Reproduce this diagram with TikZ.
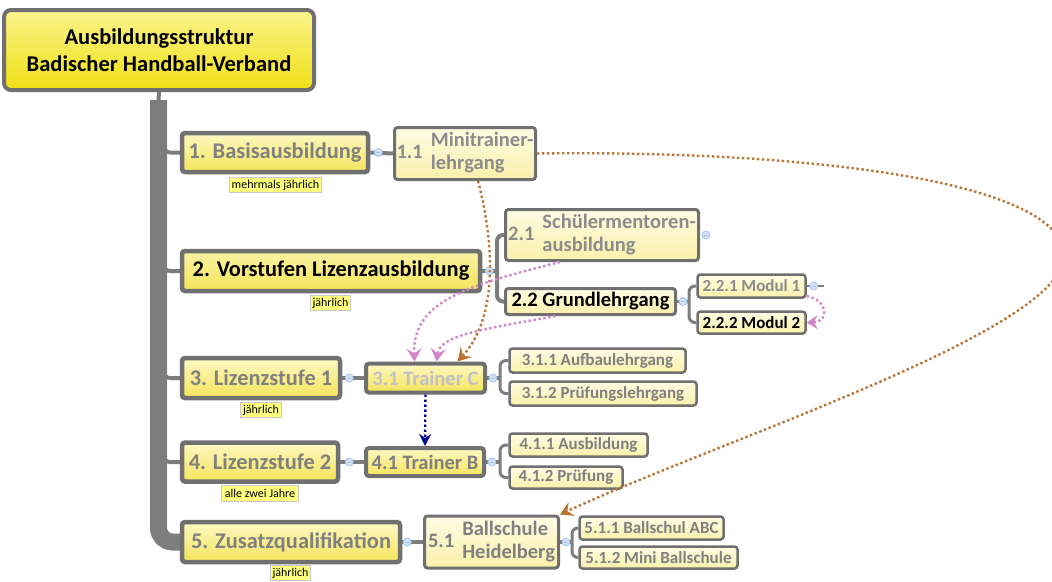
\documentclass[tikz,border=0pt]{standalone}
\usepackage{fontspec}
\setmainfont{Carlito}
\usetikzlibrary{arrows.meta}
\definecolor{bd}{RGB}{112,112,112}
\definecolor{trk}{RGB}{125,125,125}
\definecolor{tg}{RGB}{128,128,128}
\definecolor{tl}{RGB}{140,140,140}
\definecolor{tc}{RGB}{192,192,200}
\definecolor{rootT}{RGB}{250,243,140}
\definecolor{rootB}{RGB}{240,224,20}
\definecolor{lvT}{RGB}{253,248,195}
\definecolor{lvB}{RGB}{245,228,90}
\definecolor{sbT}{RGB}{255,252,228}
\definecolor{sbB}{RGB}{250,240,170}
\definecolor{noteF}{RGB}{255,255,128}
\definecolor{notebd}{RGB}{200,200,200}
\definecolor{knobF}{RGB}{210,225,248}
\definecolor{knobD}{RGB}{165,195,235}
\definecolor{brn}{RGB}{185,115,50}
\definecolor{pnk}{RGB}{212,132,200}
\definecolor{nvy}{RGB}{0,0,140}
\tikzset{
  base/.style={draw=bd, rounded corners=3pt, inner sep=0pt, font=\bfseries},
  rootbox/.style={base, line width=4pt, rounded corners=7pt, top color=rootT, bottom color=rootB, align=center, font=\bfseries\fontsize{22.5}{27}\selectfont},
  lvl/.style={base, line width=4.5pt, top color=lvT, bottom color=lvB, text=tg, font=\bfseries\fontsize{22.4}{26}\selectfont},
  sub/.style={base, line width=3pt, top color=sbT, bottom color=sbB, text=tl, font=\bfseries\fontsize{20.5}{23}\selectfont},
  subl/.style={sub, line width=4pt, top color=lvT, bottom color=lvB},
  leaf/.style={base, line width=2.5pt, top color=sbT, bottom color=sbB, text=tg, font=\bfseries\fontsize{17}{20}\selectfont},
  note/.style={draw=notebd, line width=0.8pt, fill=noteF, inner sep=0pt, font=\fontsize{12}{14}\selectfont},
  trunk/.style={draw=trk, line width=17pt, rounded corners=14pt},
  branch/.style={draw=trk, line width=4pt, rounded corners=6pt},
  knob/.style={circle, draw=knobD, fill=knobF, minimum size=8pt, inner sep=0pt, line width=0.8pt,
    path picture={\draw[knobD, line width=0.8pt] ([xshift=-2.2pt]path picture bounding box.center) -- ([xshift=2.2pt]path picture bounding box.center);}},
  rel/.style={line width=2.4pt, dash pattern=on 2.4pt off 2.6pt},
  tip/.style={-{Stealth[length=13pt, width=15pt, inset=5pt]}},
}
\begin{document}
\begin{tikzpicture}[x=1pt,y=-1pt]
\useasboundingbox (0,0) rectangle (1052,581);

% junction coordinates
\coordinate (T0) at (158.5,100);
\coordinate (j2) at (497,271);
\coordinate (jC) at (689,301.5);
\coordinate (jF) at (500,378);
\coordinate (jI) at (500,462);
\coordinate (jL) at (572,542);
\coordinate (b1) at (164,142);
\coordinate (b2) at (164,260);
\coordinate (b3) at (164,367);
\coordinate (b4) at (164,451);
\coordinate (dEnd) at (824,286);

% root and trunk
\node[rootbox, minimum width=310pt, minimum height=80pt] (R) at (159,50) {Ausbildungsstruktur\\Badischer Handball-Verband};
\draw[branch] (R.south) -- (T0);

\path (275,152.5) coordinate (cL1) (331,271) coordinate (cL2) (261,378) coordinate (cL3)
      (260,462) coordinate (cL4) (291,542) coordinate (cL5);

\draw[trunk] (T0) |- (cL5);
\draw[branch] (b1) |- (cL1);
\draw[branch] (b2) |- (cL2);
\draw[branch] (b3) |- (cL3);
\draw[branch] (b4) |- (cL4);

% second-level and leaf nodes
\node[sub, minimum width=141pt, minimum height=52pt] (A) at (465,153.5)
  {1.1\hspace{8pt}\begin{tabular}[c]{@{}l@{}}Minitrainer-\\lehrgang\end{tabular}};
\node[sub, minimum width=193pt, minimum height=51pt] (B) at (602,235)
  {2.1\hspace{8pt}\begin{tabular}[c]{@{}l@{}}Schülermentoren-\\ausbildung\end{tabular}};
\node[sub, text=black, minimum width=170pt, minimum height=26pt] (C) at (590.5,301.5) {2.2 Grundlehrgang};
\node[leaf, text=tl, minimum width=108pt, minimum height=23pt] (D) at (751.5,286) {2.2.1 Modul 1};
\node[leaf, text=black, minimum width=108pt, minimum height=22pt] (E) at (751.5,322.5) {2.2.2 Modul 2};
\node[subl, text=tc, minimum width=119pt, minimum height=29pt] (F) at (425.5,378) {3.1 Trainer C};
\node[leaf, minimum width=176pt, minimum height=24pt] (G) at (597.5,360.5) {3.1.1 Aufbaulehrgang};
\node[leaf, minimum width=187pt, minimum height=24pt] (H) at (603,393.5) {3.1.2 Prüfungslehrgang};
\node[subl, text=tg, minimum width=118pt, minimum height=28pt] (I) at (425,462) {4.1 Trainer B};
\node[leaf, minimum width=138pt, minimum height=23pt] (J) at (578.5,445) {4.1.1 Ausbildung};
\node[leaf, minimum width=113pt, minimum height=22pt] (K) at (566,477.5) {4.1.2 Prüfung};
\node[sub, text=tg, minimum width=134pt, minimum height=52pt] (L) at (491.5,542)
  {5.1\hspace{8pt}\begin{tabular}[c]{@{}l@{}}Ballschule\\Heidelberg\end{tabular}};
\node[leaf, minimum width=144pt, minimum height=23pt] (M) at (651.5,528) {5.1.1 Ballschul ABC};
\node[leaf, minimum width=158pt, minimum height=22pt] (N) at (658.5,557.5) {5.1.2 Mini Ballschule};

% level-one nodes
\node[lvl, minimum width=186pt, minimum height=39pt] (L1) at (cL1) {1. Basisausbildung};
\node[lvl, text=black, top color=lvT!70!lvB, minimum width=298pt, minimum height=40pt] (L2) at (cL2) {2. Vorstufen Lizenzausbildung};
\node[lvl, minimum width=158pt, minimum height=40pt] (L3) at (cL3) {3. Lizenzstufe 1};
\node[lvl, minimum width=156pt, minimum height=39pt] (L4) at (cL4) {4. Lizenzstufe 2};
\node[lvl, minimum width=218pt, minimum height=40pt] (L5) at (cL5) {5. Zusatzqualifikation};

% notes
\node[note, minimum width=92pt, minimum height=15pt] (n1) at (275.5,185) {mehrmals jährlich};
\node[note, minimum width=40pt, minimum height=15pt] (n2) at (330.5,303) {jährlich};
\node[note, minimum width=41pt, minimum height=15pt] (n3) at (261,410) {jährlich};
\node[note, minimum width=77pt, minimum height=16pt] (n4) at (260,493.5) {alle zwei Jahre};
\node[note, minimum width=40pt, minimum height=15pt] (n5) at (290.5,573) {jährlich};

% ---------- hierarchy connectors ----------
\draw[branch] (L1.east) -- (A.west);
\draw[branch] (L2.east) -- (j2);
\draw[branch] (B.west) -| (j2) |- (C.west);
\draw[branch, line width=3pt] (C.east) -- (jC);
\draw[branch, line width=3pt] (D.west) -| (jC) |- (E.west);
\draw[branch, line width=2pt] (D.east) -- (dEnd);
\draw[branch] (L3.east) -- (F.west);
\draw[branch] (F.east) -- (jF);
\draw[branch, line width=3pt] (G.west) -| (jF) |- (H.west);
\draw[branch] (L4.east) -- (I.west);
\draw[branch] (I.east) -- (jI);
\draw[branch, line width=3pt] (J.west) -| (jI) |- (K.west);
\draw[branch] (L5.east) -- (L.west);
\draw[branch] (L.east) -- (jL);
\draw[branch, line width=3pt] (M.west) -| (jL) |- (N.west);

% knobs
\node[knob] (k1) at ([xshift=8pt]L1.east) {};
\node[knob] (k2) at ([xshift=7pt]L2.east) {};
\node[knob] (kB) at ([xshift=6pt]B.east) {};
\node[knob] (kC) at ([xshift=6pt]C.east) {};
\node[knob] (kD) at ([xshift=7pt]D.east) {};
\node[knob] (k3) at ([xshift=7pt]L3.east) {};
\node[knob] (kF) at ([xshift=6pt]F.east) {};
\node[knob] (k4) at ([xshift=9pt]L4.east) {};
\node[knob] (kI) at ([xshift=6pt]I.east) {};
\node[knob] (k5) at ([xshift=5pt]L5.east) {};
\node[knob] (kL) at ([xshift=6pt]L.east) {};

% ---------- relationship arrows ----------
\draw[rel, brn, tip]
  ([xshift=13pt]A.south) .. controls (496,250) and (496,320) .. ([xshift=32pt]F.north);
\draw[rel, brn, tip]
  (A.east) .. controls (800,150) and (1062,180) .. (1064,255)
  .. controls (1066,330) and (720,440) .. (L.north east);
\draw[rel, pnk, tip]
  ([xshift=-42pt]B.south) .. controls (470,285) and (412,300) .. ([xshift=-11pt]F.north);
\draw[rel, pnk, tip]
  ([xshift=-35pt]C.south) .. controls (480,330) and (440,335) .. ([xshift=11pt]F.north);
\draw[rel, pnk, -{Stealth[length=11pt, width=14pt, inset=4pt]}]
  ([yshift=-10pt]D.east) .. controls (828,300) and (830,322) .. (E.east);
\draw[rel, nvy, -{Stealth[length=12pt, width=12pt, inset=4pt]}]
  (F.south) -- (I.north);
\end{tikzpicture}
\end{document}
